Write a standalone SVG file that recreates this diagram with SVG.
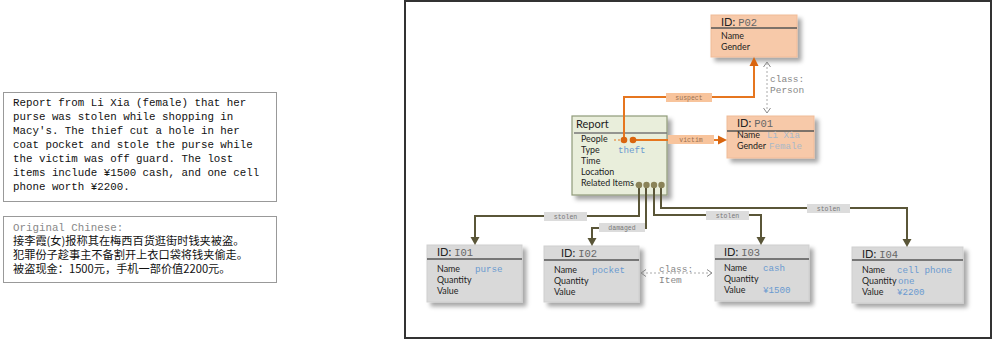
<svg xmlns="http://www.w3.org/2000/svg" width="994" height="341" viewBox="0 0 994 341">
<defs>
<filter id="sh" x="-10%" y="-10%" width="130%" height="140%">
<feDropShadow dx="4" dy="4" stdDeviation="2" flood-color="#000" flood-opacity="0.35"/>
</filter>
<style>
.doc{font-family:"Liberation Mono","DejaVu Sans Mono",monospace;font-size:10.8px;fill:#111}
.cn{font-family:"Noto Sans CJK SC",sans-serif;font-size:11.2px;fill:#111}
.f{font-family:Lato,"Open Sans",sans-serif;font-size:8.9px;fill:#222}
.h{font-family:Lato,"Open Sans",sans-serif;font-size:11px;fill:#222}
.id{font-family:"Liberation Mono",monospace;font-size:10.5px;fill:#666}
.v{font-family:"Liberation Mono",monospace;font-size:9.2px;fill:#6a9ad0}
.cls{font-family:"Liberation Mono",monospace;font-size:9.5px;fill:#888}
.lbl{font-family:"Liberation Mono",monospace;font-size:6.5px;fill:#777}
.olbl{font-family:"Liberation Mono",monospace;font-size:6.5px;fill:#9a7050}
.pbox{fill:#f7c9a9;stroke:#f0bb98;stroke-width:1}
.rbox{fill:#e9eedb;stroke:#8f9a78;stroke-width:1.2}
.ibox{fill:#d9d9d9;stroke:#cfcfcf;stroke-width:1}
.sep{stroke:#555;stroke-width:1.5}
.ol{fill:none;stroke:#e6761f;stroke-width:2}
.gl{fill:none;stroke:#5a5638;stroke-width:2}
.oa{fill:#d9650f}
.ga{fill:#5a5638}
.gd{fill:none;stroke:#aaa;stroke-width:1;stroke-dasharray:2,2}
.chev{fill:none;stroke:#888;stroke-width:1}
.olab{fill:#f8c49c}
.glab{fill:#dcdcdc}
</style>
</defs>
<rect width="994" height="341" fill="#fff"/>

<g id="source-text">
<rect x="3.5" y="92.5" width="273" height="109" fill="#fff" stroke="#999"/>
<text class="doc" x="13" y="106">Report from Li Xia (female) that her</text>
<text class="doc" x="13" y="120">purse was stolen while shopping in</text>
<text class="doc" x="13" y="134">Macy's. The thief cut a hole in her</text>
<text class="doc" x="13" y="148">coat pocket and stole the purse while</text>
<text class="doc" x="13" y="162">the victim was off guard. The lost</text>
<text class="doc" x="13" y="176">items include ¥1500 cash, and one cell</text>
<text class="doc" x="13" y="190">phone worth ¥2200.</text>
</g>
<g id="original-chinese">
<rect x="3.5" y="216.5" width="273" height="66" fill="#fff" stroke="#999"/>
<text class="doc" x="13" y="231" style="fill:#888">Original Chinese:</text>
<text class="cn" x="13" y="245">接李霞(女)报称其在梅西百货逛街时钱夹被盗。</text>
<text class="cn" x="13" y="259">犯罪份子趁事主不备割开上衣口袋将钱夹偷走。</text>
<text class="cn" x="13" y="273">被盗现金：1500元，手机一部价值2200元。</text>
</g>

<rect x="405" y="1" width="586" height="337" fill="#fff" stroke="#333" stroke-width="2"/>

<g id="P02">
<rect class="pbox" x="711" y="15" width="86" height="42" filter="url(#sh)"/>
<line class="sep" x1="711" y1="28" x2="797" y2="28"/>
<text x="721" y="26"><tspan class="h">ID:</tspan><tspan class="id" dx="3">P02</tspan></text>
<text class="f" x="721" y="39">Name</text>
<text class="f" x="721" y="50">Gender</text>
</g>

<g id="P01">
<rect class="pbox" x="727" y="116" width="87" height="42" filter="url(#sh)"/>
<line class="sep" x1="727" y1="131" x2="814" y2="131"/>
<text x="737" y="127"><tspan class="h">ID:</tspan><tspan class="id" dx="3">P01</tspan></text>
<text class="f" x="737" y="138">Name</text>
<text class="v" x="767" y="138" style="fill:#a8b8c8">Li Xia</text>
<text class="f" x="737" y="149">Gender</text>
<text class="v" x="769" y="149" style="fill:#a8b8c8">Female</text>
</g>

<g id="Report">
<rect class="rbox" x="572" y="116" width="95" height="79" filter="url(#sh)"/>
<line class="sep" x1="574" y1="133" x2="667" y2="133" style="stroke:#777"/>
<text class="h" x="576" y="128">Report</text>
<text class="f" x="581" y="142">People</text>
<text class="f" x="581" y="153">Type</text>
<text class="v" x="618" y="153">theft</text>
<text class="f" x="581" y="164">Time</text>
<text class="f" x="581" y="175">Location</text>
<text class="f" x="581" y="186">Related Items</text>
</g>

<g id="I01">
<rect class="ibox" x="427" y="245" width="95" height="57" filter="url(#sh)"/>
<line class="sep" x1="427" y1="259" x2="522" y2="259"/>
<text x="437" y="256"><tspan class="h">ID:</tspan><tspan class="id" dx="3">I01</tspan></text>
<text class="f" x="437" y="272">Name</text>
<text class="v" x="475" y="272">purse</text>
<text class="f" x="437" y="283">Quantity</text>
<text class="f" x="437" y="294">Value</text>
</g>

<g id="I02">
<rect class="ibox" x="544" y="246" width="95" height="56" filter="url(#sh)"/>
<line class="sep" x1="544" y1="260" x2="639" y2="260"/>
<text x="561" y="257"><tspan class="h">ID:</tspan><tspan class="id" dx="3">I02</tspan></text>
<text class="f" x="554" y="273">Name</text>
<text class="v" x="592" y="273">pocket</text>
<text class="f" x="554" y="284">Quantity</text>
<text class="f" x="554" y="295">Value</text>
</g>

<g id="I03">
<rect class="ibox" x="715" y="245" width="94" height="56" filter="url(#sh)"/>
<line class="sep" x1="715" y1="259" x2="809" y2="259"/>
<text x="724" y="256"><tspan class="h">ID:</tspan><tspan class="id" dx="3">I03</tspan></text>
<text class="f" x="724" y="271">Name</text>
<text class="v" x="763" y="271">cash</text>
<text class="f" x="724" y="282">Quantity</text>
<text class="f" x="724" y="293">Value</text>
<text class="v" x="763" y="293">¥1500</text>
</g>

<g id="I04">
<rect class="ibox" x="852" y="247" width="111" height="56" filter="url(#sh)"/>
<line class="sep" x1="852" y1="260" x2="963" y2="260"/>
<text x="862" y="258"><tspan class="h">ID:</tspan><tspan class="id" dx="3">I04</tspan></text>
<text class="f" x="862" y="273">Name</text>
<text class="v" x="897" y="273">cell phone</text>
<text class="f" x="862" y="284">Quantity</text>
<text class="v" x="898" y="284">one</text>
<text class="f" x="862" y="295">Value</text>
<text class="v" x="897" y="295">¥2200</text>
</g>

<g id="connectors">
<path d="M614,140 H624" fill="none" stroke="#e6761f" stroke-width="1.2" stroke-dasharray="2,2"/>
<path class="ol" d="M624,140 V97 H754 V65"/>
<polygon class="oa" points="754,57 749.5,66 758.5,66"/>
<path class="ol" d="M633,140 H719"/>
<polygon class="oa" points="727,140 718,135.5 718,144.5"/>
<circle cx="624" cy="140" r="3.3" fill="#d9650f"/>
<circle cx="633" cy="140" r="3.3" fill="#d9650f"/>
<rect class="olab" x="666" y="93" width="46" height="9"/>
<text class="olbl" x="689" y="100" text-anchor="middle">suspect</text>
<rect class="olab" x="668" y="135" width="46" height="9"/>
<text class="olbl" x="691" y="142" text-anchor="middle">victim</text>

<line class="gd" x1="767" y1="63" x2="767" y2="111"/>
<polyline class="chev" points="763.5,67 767,62 770.5,67"/>
<polyline class="chev" points="763.5,108 767,113 770.5,108"/>
<text class="cls" x="770" y="82">class:</text>
<text class="cls" x="770" y="93">Person</text>

<path d="M632,185 H639" fill="none" stroke="#8a8358" stroke-width="1" stroke-dasharray="2,1.5"/>
<path class="gl" d="M639,185 V216 H475 V238"/>
<polygon class="ga" points="475,245 470.5,237 479.5,237"/>
<path class="gl" d="M646,185 V228 H592 V239"/>
<polygon class="ga" points="592,246 587.5,238 596.5,238"/>
<path class="gl" d="M654,185 V215 H761 V238"/>
<polygon class="ga" points="761,245 756.5,237 765.5,237"/>
<path class="gl" d="M661,185 V208 H907 V240"/>
<polygon class="ga" points="907,247 902.5,239 911.5,239"/>
<circle cx="639" cy="185" r="3.2" fill="#8a8358"/>
<circle cx="646.5" cy="185" r="3.2" fill="#8a8358"/>
<circle cx="654" cy="185" r="3.2" fill="#8a8358"/>
<circle cx="661.5" cy="185" r="3.2" fill="#8a8358"/>
<rect class="glab" x="544" y="212" width="43" height="9"/>
<text class="lbl" x="565.5" y="219" text-anchor="middle">stolen</text>
<rect class="glab" x="599" y="223" width="46" height="9"/>
<text class="lbl" x="622" y="230" text-anchor="middle">damaged</text>
<rect class="glab" x="706" y="211" width="43" height="9"/>
<text class="lbl" x="727.5" y="218" text-anchor="middle">stolen</text>
<rect class="glab" x="807" y="204" width="43" height="9"/>
<text class="lbl" x="828.5" y="211" text-anchor="middle">stolen</text>

<line class="gd" x1="642" y1="273" x2="711" y2="273"/>
<polyline class="chev" points="646,269.5 641,273 646,276.5"/>
<polyline class="chev" points="707,269.5 712,273 707,276.5"/>
<text class="cls" x="659" y="272">class:</text>
<text class="cls" x="659" y="283">Item</text>
</g>
</svg>
